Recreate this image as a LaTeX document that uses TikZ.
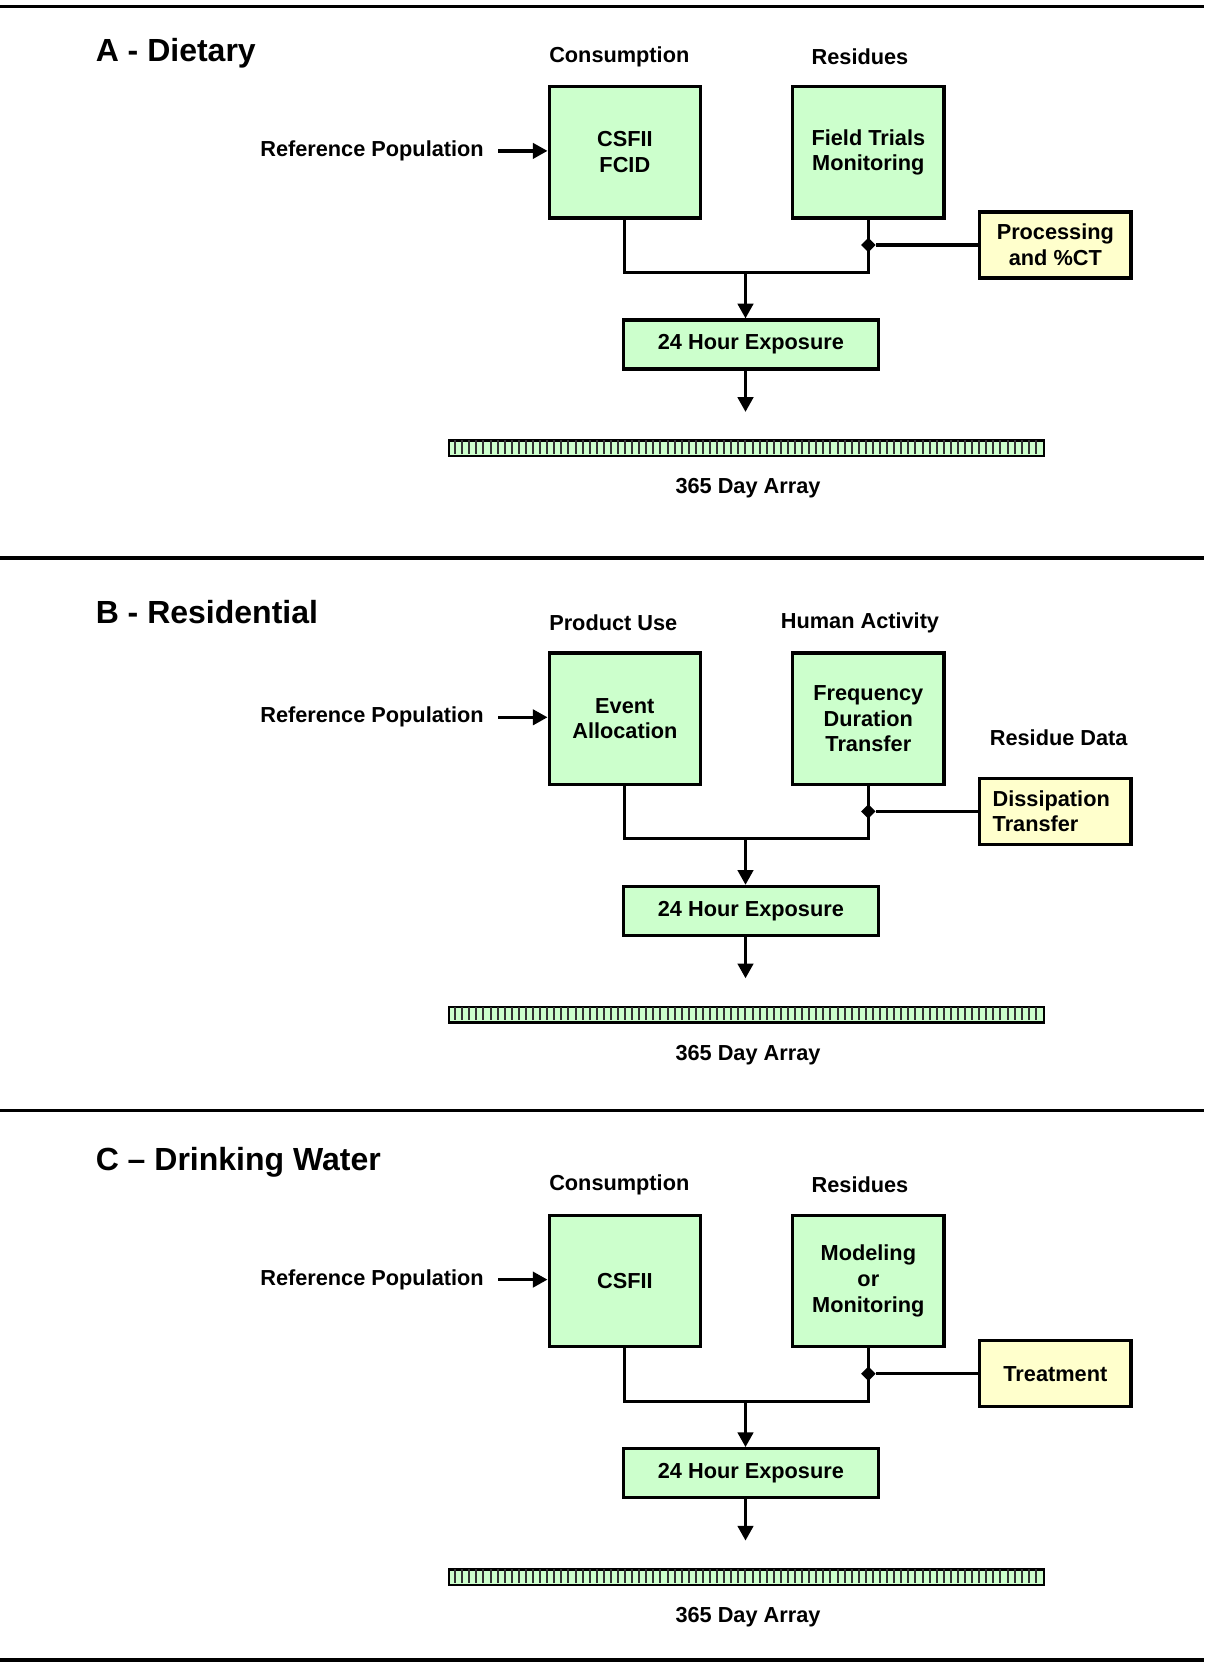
\documentclass[tikz,border=0pt]{standalone}
\usepackage{fontspec}
\setmainfont{Liberation Sans}
\usetikzlibrary{arrows.meta,shapes.geometric}
\definecolor{boxgreen}{RGB}{204,255,204}
\definecolor{boxyellow}{RGB}{255,255,204}
\newcommand{\BodyFont}{\fontsize{16.3}{19.2}\selectfont\bfseries}
\newcommand{\HeadFont}{\fontsize{24}{28}\selectfont\bfseries}
\tikzset{
    wire/.style      = {line width=2.4pt, draw=black},
    flow/.style      = {wire, -{Triangle[length=11pt, width=11.5pt]}},
    sepline/.style   = {line width=2.4pt},
    plaintext/.style = {font=\BodyFont, inner sep=0pt},
    panelhead/.style = {font=\HeadFont, anchor=west, inner sep=0pt},
    greenbox/.style  = {draw=black, line width=2.4pt, fill=boxgreen,
            align=center, font=\BodyFont, anchor=north west},
    inbox/.style     = {greenbox, minimum width=113.6pt, minimum height=98.6pt},
    daybox/.style    = {greenbox, minimum width=190.9pt, minimum height=36.8pt},
    sidebox/.style   = {draw=black, line width=2.4pt, fill=boxyellow,
            font=\BodyFont, anchor=north west,
            minimum width=113.6pt, minimum height=49.5pt},
    junction/.style  = {diamond, fill=black, inner sep=0pt, minimum size=11pt},
    dayarray/.style  = {draw=black, line width=1.8pt, fill=boxgreen, inner sep=0pt,
            anchor=north west, minimum width=446.2pt, minimum height=11.6pt},
    daytick/.style   = {draw=black!80, line width=1.5pt},
}
\newcommand{\ExposurePanel}[8][align=center]{% side opts, y0, prefix, left head, right head, left text, right text, side text
    \begin{scope}[shift={(0,#2)}, name prefix=#3-]
        % column headers
        \node[plaintext, anchor=west] (lhead) at (549,-28.5) {#4};
        \node[plaintext] (rhead) at (860,-28.5) {#5};

        % input boxes
        \node[inbox] (lbox) at (547.5,0) {#6};
        \node[inbox] (rbox) at (791,0) {#7};
        \node[sidebox, #1] (sbox) at (978,125.5) {#8};

        % reference population
        \node[plaintext, anchor=east, inner xsep=10.5pt] (refpop) at (498,66) {Reference Population};
        \draw[flow] (refpop.east) -- (lbox.west |- refpop.east);

        % merge of both inputs
        \coordinate (join) at (745.5,187.5);
        \draw[wire] (lbox.south) |- (join) -| (rbox.south);
        \node[junction] (knot) at (rbox.south |- sbox.west) {};
        \draw[wire] (sbox.west) -- (knot);

        % daily exposure
        \node[daybox] (day) at (622,233.5) {24 Hour Exposure};
        \draw[flow] (join) -- (join |- day.north);
        \coordinate (drop) at (745.5,327);
        \draw[flow] (join |- day.south) -- (drop);

        % 365 day array
        \node[dayarray] (days) at (448,354.5) {};
        \foreach \i in {1,...,83}
            \draw[daytick] (448+\i*7.083,355.5) -- (448+\i*7.083,369);
        \node[plaintext] (daylabel) at (748,403.5) {365 Day Array};
    \end{scope}
}

\begin{document}
\begin{tikzpicture}[x=0.75pt, y=-0.75pt]
    \useasboundingbox (0,0) rectangle (1204,1663);

    % separating rules
    \draw[sepline] (0,6.4) -- (1204,6.4);
    \draw[sepline] (0,558) -- (1204,558);
    \draw[sepline] (0,1110.7) -- (1204,1110.7);
    \draw[sepline] (0,1660) -- (1204,1660);

    % A - dietary
    \node[panelhead] (headA) at (95.5,53.5) {A - Dietary};
    \ExposurePanel{84.9}{a}{Consumption}{Residues}{CSFII\\FCID}{Field Trials\\Monitoring}{Processing\\and \%CT}

    % B - residential
    \node[panelhead] (headB) at (95.5,612) {B - Residential};
    \ExposurePanel[align=left, inner xsep=9.75pt, text width=94pt]{651.3}{b}{Product Use}{Human Activity}{Event\\Allocation}{Frequency\\Duration\\Transfer}{Dissipation\\Transfer}
    \node[plaintext] (resdata) at (1058.7,737.3) {Residue Data};

    % C - drinking water
    \node[panelhead] (headC) at (95.5,1162) {C – Drinking Water};
    \ExposurePanel{1213.6}{c}{Consumption}{Residues}{CSFII}{Modeling\\or\\Monitoring}{Treatment}
\end{tikzpicture}
\end{document}
